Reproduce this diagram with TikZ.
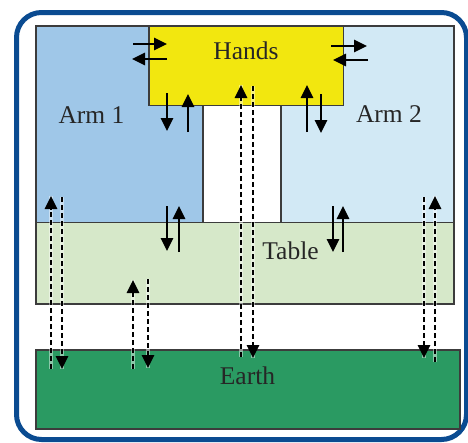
\documentclass[tikz,border=0pt]{standalone}
\usepackage{fontspec}
\setmainfont{Liberation Serif}
\usetikzlibrary{arrows.meta}
\definecolor{framecol}{HTML}{0A4B91}
\definecolor{armone}{HTML}{9FC7E8}
\definecolor{armtwo}{HTML}{D2E9F5}
\definecolor{handcol}{HTML}{F2E70F}
\definecolor{tablecol}{HTML}{D6E8C9}
\definecolor{earthcol}{HTML}{2A9A62}
\definecolor{edgecol}{HTML}{3C3C3C}
\tikzset{
  region/.style={draw=edgecol, line width=1.2pt, rectangle, inner sep=0pt, outer sep=0pt, anchor=north west},
  label/.style={anchor=base, font=\fontsize{25.5}{28}\selectfont, text=black!85},
  solidarrow/.style={draw=black, line width=1.5pt, -{Triangle[width=12.5pt,length=13pt]}},
  dasharrow/.style={solidarrow, dash pattern=on 5pt off 3pt,
    preaction={draw=white, draw opacity=0.45, line width=4pt, solid, -}},
}
\begin{document}
\begin{tikzpicture}[x=1pt,y=-1pt]
\useasboundingbox (0,0) rectangle (468,442);
% outer frame
\draw[framecol, line width=5pt, rounded corners=25pt] (16.5,12.5) rectangle (466.5,439.5);

% regions
\node[region, fill=armone, minimum width=167pt, minimum height=196.5pt] (arm1) at (36,26) {};
\node[region, fill=armtwo, minimum width=173pt, minimum height=196.5pt] (arm2) at (281,26) {};
\node[region, fill=handcol, minimum width=194.5pt, minimum height=79.5pt] (hands) at (149,26) {};
\node[region, fill=tablecol, minimum width=418pt, minimum height=81.5pt] (table) at (36,222.5) {};
\node[region, fill=earthcol, minimum width=424pt, minimum height=79pt] (earth) at (36,350) {};

% labels
\node[label] (thands) at (246,59) {Hands};
\node[label] (tarm1) at (91.5,123) {Arm 1};
\node[label] (tarm2) at (389,122) {Arm 2};
\node[label] (ttable) at (290.5,259) {Table};
\node[label] (tearth) at (247.5,384) {Earth};

% arrow end points
\coordinate (a1) at (133,44);  \coordinate (a2) at (167,44);
\coordinate (a3) at (167,59);  \coordinate (a4) at (132,59);
\coordinate (b1) at (167,93);  \coordinate (b2) at (167,131);
\coordinate (b3) at (188,132); \coordinate (b4) at (188,94);
\coordinate (c1) at (331,46);  \coordinate (c2) at (367,46);
\coordinate (c3) at (368,60);  \coordinate (c4) at (333,60);
\coordinate (d1) at (307,132); \coordinate (d2) at (307,85);
\coordinate (d3) at (321,94);  \coordinate (d4) at (321,133);
\coordinate (e1) at (167,206); \coordinate (e2) at (167,251);
\coordinate (e3) at (179,252); \coordinate (e4) at (179,206);
\coordinate (f1) at (333,206); \coordinate (f2) at (333,252);
\coordinate (f3) at (343,252); \coordinate (f4) at (343,206);
\coordinate (g1) at (51,369);  \coordinate (g2) at (51,196);
\coordinate (g3) at (62,197);  \coordinate (g4) at (62,369);
\coordinate (h1) at (133,369); \coordinate (h2) at (133,280);
\coordinate (h3) at (148,279); \coordinate (h4) at (148,368);
\coordinate (k1) at (241,357); \coordinate (k2) at (241,85);
\coordinate (k3) at (253,86);  \coordinate (k4) at (253,358);
\coordinate (m1) at (435,362); \coordinate (m2) at (435,196);
\coordinate (m3) at (424,197); \coordinate (m4) at (424,358);

% exchanges between neighbouring parts
\draw[solidarrow] (a1) -- (a2);
\draw[solidarrow] (a3) -- (a4);
\draw[solidarrow] (b1) -- (b2);
\draw[solidarrow] (b3) -- (b4);
\draw[solidarrow] (c1) -- (c2);
\draw[solidarrow] (c3) -- (c4);
\draw[solidarrow] (d1) -- (d2);
\draw[solidarrow] (d3) -- (d4);
\draw[solidarrow] (e1) -- (e2);
\draw[solidarrow] (e3) -- (e4);
\draw[solidarrow] (f1) -- (f2);
\draw[solidarrow] (f3) -- (f4);

% exchanges with earth
\draw[dasharrow] (g1) -- (g2);
\draw[dasharrow] (g3) -- (g4);
\draw[dasharrow] (h1) -- (h2);
\draw[dasharrow] (h3) -- (h4);
\draw[dasharrow] (k1) -- (k2);
\draw[dasharrow] (k3) -- (k4);
\draw[dasharrow] (m1) -- (m2);
\draw[dasharrow] (m3) -- (m4);
\end{tikzpicture}
\end{document}
